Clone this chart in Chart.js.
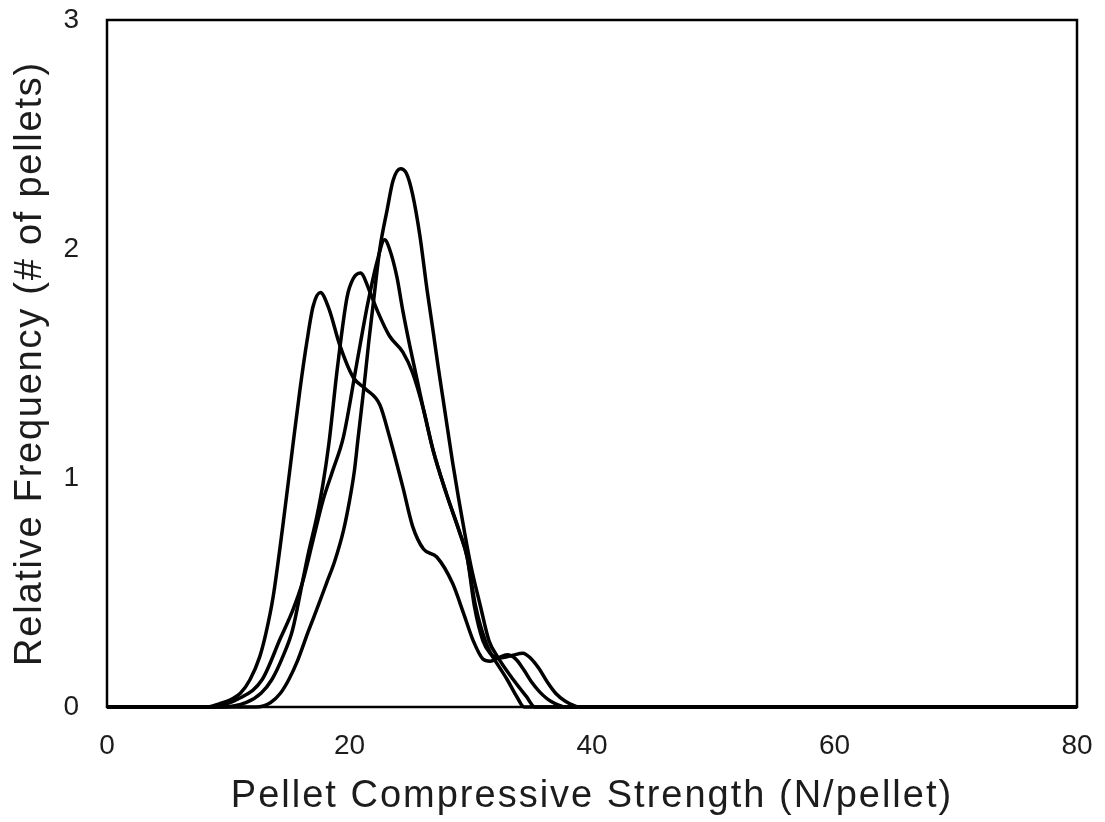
<!DOCTYPE html>
<html>
<head>
<meta charset="utf-8">
<title>Pellet Compressive Strength</title>
<script src="https://cdn.jsdelivr.net/npm/chart.js@4/dist/chart.umd.min.js"></script>
<style>
  html, body { margin: 0; padding: 0; background: #ffffff; }
  #wrap { width: 1105px; height: 822px; }
</style>
</head>
<body>
<div id="wrap"><canvas id="chart" width="1105" height="822"></canvas></div>
<script>
// Frequency curves of pellet compressive strength, four pellet batches.
// Strength in N/pellet, frequency in number of pellets.
const strengthA = [0, 8.2, 9.3, 10.3, 11.0, 11.8, 12.6, 13.1, 13.7, 14.5, 15.3, 15.9, 16.5, 17.0, 17.6, 18.3, 19.2, 20.3, 21.3, 22.5, 23.3, 24.4, 25.2, 26.1, 27.2, 28.5, 29.4, 30.2, 31.0, 31.6, 32.3, 33.0, 33.7, 34.4, 35.0, 35.7, 36.6, 37.9, 80];
const freqA     = [0, 0, 0.015, 0.035, 0.06, 0.12, 0.22, 0.32, 0.48, 0.79, 1.13, 1.38, 1.60, 1.75, 1.81, 1.74, 1.58, 1.44, 1.39, 1.32, 1.18, 0.96, 0.79, 0.69, 0.655, 0.54, 0.41, 0.29, 0.21, 0.20, 0.215, 0.228, 0.21, 0.16, 0.11, 0.065, 0.025, 0, 0];

const strengthB = [0, 9.5, 11.5, 12.7, 13.6, 14.5, 15.3, 16.1, 16.6, 17.3, 17.8, 18.3, 19.0, 19.8, 20.3, 20.9, 21.7, 22.3, 23.3, 24.4, 25.2, 26.1, 26.9, 28.0, 29.1, 29.7, 30.4, 31.2, 31.9, 32.6, 33.4, 34.3, 35.0, 35.6, 36.3, 37.0, 37.8, 39.0, 80];
const freqB     = [0, 0, 0.02, 0.06, 0.12, 0.22, 0.336, 0.54, 0.67, 0.83, 0.97, 1.15, 1.48, 1.79, 1.87, 1.895, 1.81, 1.73, 1.62, 1.55, 1.46, 1.30, 1.12, 0.93, 0.76, 0.655, 0.44, 0.29, 0.22, 0.215, 0.225, 0.235, 0.21, 0.17, 0.11, 0.06, 0.025, 0, 0];

const strengthC = [0, 8.5, 11.0, 12.8, 14.3, 15.3, 16.1, 17.0, 17.8, 18.6, 19.5, 20.6, 21.5, 22.3, 22.9, 23.3, 23.9, 24.4, 25.0, 26.1, 26.9, 28.0, 29.1, 29.7, 30.3, 31.0, 31.8, 33.0, 33.8, 34.4, 80];
const freqC     = [0, 0, 0.04, 0.12, 0.30, 0.42, 0.54, 0.73, 0.90, 1.03, 1.18, 1.50, 1.76, 1.95, 2.04, 2.00, 1.88, 1.73, 1.57, 1.30, 1.12, 0.93, 0.76, 0.655, 0.44, 0.29, 0.22, 0.12, 0.045, 0, 0];

const strengthD = [0, 12.3, 13.5, 14.3, 15.0, 15.7, 16.6, 17.4, 18.1, 18.8, 19.5, 20.0, 20.4, 20.7, 21.2, 21.6, 22.0, 22.5, 23.1, 23.6, 24.2, 24.7, 25.2, 25.8, 26.4, 26.9, 27.3, 27.7, 28.1, 28.5, 29.0, 29.5, 30.0, 30.8, 31.5, 32.2, 33.5, 34.6, 35.3, 80];
const freqD     = [0, 0, 0.02, 0.06, 0.12, 0.20, 0.33, 0.44, 0.54, 0.64, 0.77, 0.90, 1.03, 1.17, 1.40, 1.60, 1.78, 2.00, 2.17, 2.30, 2.35, 2.33, 2.24, 2.06, 1.82, 1.64, 1.49, 1.35, 1.21, 1.07, 0.91, 0.76, 0.62, 0.44, 0.29, 0.22, 0.12, 0.045, 0, 0];

const xTickValues = [0, 20, 40, 60, 80];
const yTickValues = [0, 1, 2, 3];

const xTitle = 'Pellet Compressive Strength (N/pellet)';
const yTitle = 'Relative Frequency (# of pellets)';

const FONT = "'Liberation Sans', Arial, 'Helvetica Neue', sans-serif";
const INK = '#000000';
const TEXT = '#1c1c1c';

function toPoints(xs, ys) {
  return xs.map((x, i) => ({ x: x, y: ys[i] }));
}

function curve(xs, ys) {
  return {
    data: toPoints(xs, ys),
    borderColor: INK,
    borderWidth: 3.5,
    pointRadius: 0,
    fill: false,
    cubicInterpolationMode: 'monotone',
    clip: false
  };
}

// Draw an axis title with a little extra tracking between letters
function trackTitle(scale, spacing) {
  if (scale.$tracked) return;
  const base = scale.drawTitle;
  scale.drawTitle = function () {
    const ctx = this.ctx;
    ctx.save();
    ctx.letterSpacing = spacing;
    base.call(this);
    ctx.restore();
  };
  scale.$tracked = true;
}

// Frame around the plotting area
const frame = {
  id: 'frame',
  afterDatasetsDraw(chart) {
    const a = chart.chartArea;
    const ctx = chart.ctx;
    ctx.save();
    ctx.strokeStyle = INK;
    ctx.lineWidth = 2.5;
    ctx.strokeRect(a.left, a.top, a.right - a.left, a.bottom - a.top);
    ctx.restore();
  }
};

new Chart(document.getElementById('chart'), {
  type: 'line',
  data: {
    datasets: [
      curve(strengthA, freqA),
      curve(strengthB, freqB),
      curve(strengthC, freqC),
      curve(strengthD, freqD)
    ]
  },
  options: {
    responsive: false,
    animation: false,
    layout: { padding: { top: 20, right: 28, left: 0, bottom: 0 } },
    plugins: { legend: { display: false }, tooltip: { enabled: false } },
    scales: {
      x: {
        type: 'linear',
        min: xTickValues[0],
        max: xTickValues[xTickValues.length - 1],
        afterBuildTicks(scale) { scale.ticks = xTickValues.map(v => ({ value: v })); },
        afterFit(scale) {
          scale.height = 115;
          scale.paddingLeft = 0;
          scale.paddingRight = 0;
          trackTitle(scale, '2px');
        },
        grid: { display: false, drawTicks: false },
        border: { display: false },
        ticks: { padding: 22, color: TEXT, font: { family: FONT, size: 28 }, maxRotation: 0 },
        title: { display: true, text: xTitle, color: TEXT, font: { family: FONT, size: 38, lineHeight: 1.2 }, padding: { top: 0, bottom: 3 } }
      },
      y: {
        type: 'linear',
        min: yTickValues[0],
        max: yTickValues[yTickValues.length - 1],
        afterBuildTicks(scale) { scale.ticks = yTickValues.map(v => ({ value: v })); },
        afterFit(scale) {
          scale.width = 107;
          scale.paddingTop = 0;
          scale.paddingBottom = 0;
          trackTitle(scale, '1.75px');
        },
        grid: { display: false, drawTicks: false },
        border: { display: false },
        ticks: { padding: 28, color: TEXT, font: { family: FONT, size: 28 } },
        title: { display: true, text: yTitle, color: TEXT, font: { family: FONT, size: 38, lineHeight: 1.2 }, padding: { top: 8, bottom: 0 } }
      }
    }
  },
  plugins: [frame]
});
</script>
</body>
</html>
